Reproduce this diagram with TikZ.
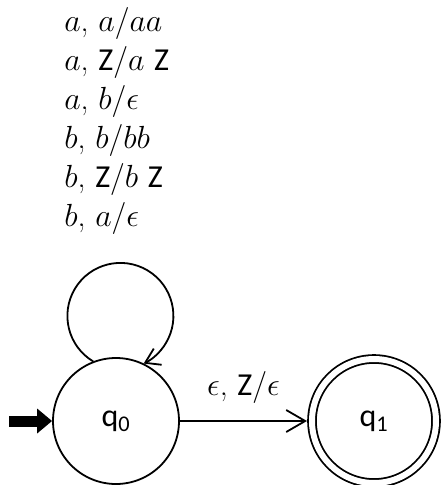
\RequirePackage{fix-cm}
\documentclass[tikz,border=0pt]{standalone}
\usepackage{amsmath}
\usepackage{fontspec}
\setsansfont{Carlito}
\usetikzlibrary{arrows.meta, positioning}
\tikzset{
  state_node/.style={circle, draw=black, line width=1.8pt, minimum size=126pt, inner sep=0pt, font=\fontsize{32}{39}\selectfont\sffamily},
  accept_node/.style={state_node, minimum size=124pt, double, double distance=6pt, outer sep=5pt},
  trans_arrow/.style={-{Straight Barb[length=19pt, width=22pt]}, line width=1.8pt},
  loop_arrow/.style={-{Straight Barb[length=14pt, width=18pt]}, line width=1.8pt},
  start_arrow/.style={-{Triangle[length=15pt, width=24pt]}, line width=11pt},
  label_text/.style={inner sep=0pt, align=left}
}

\begin{document}
\begin{tikzpicture}[x=1pt, y=1pt, font=\fontsize{32}{39}\selectfont]
  \useasboundingbox (0,0) rectangle (440,-485);

  % --- States ---
  \node[state_node] (q0) at (116,-421) {q\textsubscript{0}};
  \node[accept_node] (q1) at (374,-421) {q\textsubscript{1}};

  % --- Start arrow ---
  \coordinate[left=43pt of q0] (start);
  \draw[start_arrow] (start) -- (q0);

  % --- Self loop on q0 ---
  \draw[loop_arrow] (q0.111) arc[start angle=239, end angle=-64, radius=53pt]
    node[label_text, pos=0.5, above=28pt, xshift=-6pt] (loop_label) {%
      $a$, $a/aa$\\
      $a$, \textsf{Z}$/a$ \textsf{Z}\\
      $a$, $b/\epsilon$\\
      $b$, $b/bb$\\
      $b$, \textsf{Z}$/b$ \textsf{Z}\\
      $b$, $a/\epsilon$};

  % --- q0 -> q1 ---
  \draw[trans_arrow] (q0) -- node[label_text, above=17pt] (edge_label) {$\epsilon$, \textsf{Z}$/\epsilon$} (q1);

\end{tikzpicture}
\end{document}
